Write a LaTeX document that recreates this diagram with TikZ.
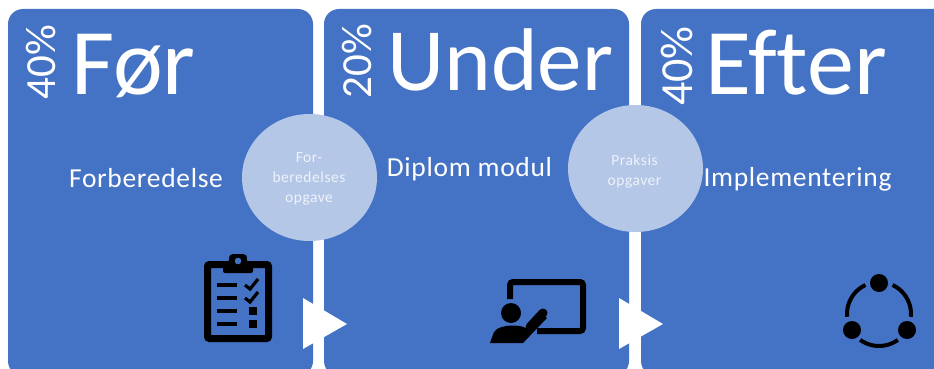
\documentclass[tikz,border=0pt]{standalone}
\usepackage{fontspec}
\usetikzlibrary{shapes.geometric}
\setmainfont{Carlito}
\definecolor{panelblue}{HTML}{4472C4}
\definecolor{bubble}{HTML}{B4C7E7}
\definecolor{bubbletext}{HTML}{EEF2FA}
\tikzset{
  panelbox/.style={fill=panelblue,rounded corners=15pt},
  bubblecirc/.style={ellipse,fill=bubble,inner sep=0pt,minimum width=135pt,minimum height=127pt},
  bigtitle/.style={text=white,inner sep=0pt,font=\fontsize{94}{94}\selectfont},
  undertitle/.style={text=white,inner sep=0pt,font=\fontsize{89}{89}\selectfont},
  pct/.style={text=white,inner sep=0pt,rotate=90,font=\fontsize{43}{43}\selectfont},
  pctbig/.style={text=white,inner sep=0pt,rotate=90,font=\fontsize{46}{46}\selectfont},
  sublabel/.style={text=white,inner sep=0pt,font=\fontsize{27.5}{27.5}\selectfont\addfontfeature{LetterSpace=2.5}},
  smalllabel/.style={text=bubbletext,inner sep=0pt,align=center,font=\fontsize{15.5}{20}\selectfont\addfontfeature{LetterSpace=3.5}},
  arrowtri/.style={fill=white},
  iconline/.style={draw=black,line width=4pt},
  ringarc/.style={draw=black,line width=4pt},
}
\begin{document}
\begin{tikzpicture}[x=1pt,y=-1pt]
\useasboundingbox (0,0) rectangle (934,369);
\fill[white] (0,0) rectangle (934,369);
\begin{scope}
\clip (0,0) rectangle (934,369);
% panels
\path[panelbox] (8,9) rectangle (313,376);
\path[panelbox] (324,9) rectangle (629,376);
\path[panelbox] (641,9) rectangle (960,376);
\end{scope}
% titles
\node[bigtitle,anchor=base west] (t1) at (71,95) {Før};
\node[undertitle,anchor=base west] (t2) at (387,90) {Under};
\node[bigtitle,anchor=base west] (t3) at (705,95) {Ef\kern0pt ter};
\node[pct] (p1) at (41,62) {40\%};
\node[pct] (p2) at (357,61) {20\%};
\node[pctbig] (p3) at (677,66) {40\%};
\node[sublabel] (s1) at (146,178) {Forberedelse};
\node[sublabel] (s2) at (469.5,169) {Diplom modul};
\node[sublabel] (s3) at (797.5,179) {Implementering};
% triangles
\fill[arrowtri] (303,298) -- (347,324) -- (303,349) -- cycle;
\fill[arrowtri] (619,298) -- (663,324) -- (619,349) -- cycle;
% circles
\node[bubblecirc] (c1) at (309.5,177.5) {};
\node[bubblecirc] (c2) at (635.5,168.5) {};
\node[smalllabel] (l1) at (309,178.5) {For-\\beredelses\\opgave};
\node[smalllabel] (l2) at (634.5,171) {Praksis\\opgaver};
% clipboard icon
\draw[black,line width=7pt,rounded corners=2pt] (207.5,264.5) rectangle (268.5,338.5);
\fill[black,rounded corners=2pt] (223,273) -- (223,262) -- (229,262) -- (229,258) [rounded corners=3pt] -- (230,254) -- (246,254) -- (247,258) [rounded corners=2pt] -- (247,262) -- (253,262) -- (253,273) -- cycle;
\fill[panelblue] (238,261) circle (3.3pt);
\foreach \yy in {285,298,311,324} \draw[iconline] (217,\yy) -- (237,\yy);
\draw[black,line width=3.2pt] (245,285) -- (250,289) -- (258,279);
\draw[black,line width=3.2pt] (245,298) -- (250,302) -- (258,292);
\fill[black] (249,307) rectangle (257,315);
\fill[black] (249,320) rectangle (257,328);
% presentation icon
\draw[black,line width=6pt,rounded corners=3pt] (510,299) -- (510,282) -- (583,282) -- (583,331) -- (537,331);
\fill[black] (511,313) circle (10pt);
\fill[black] (490,343) -- (494,332) .. controls (497,327) and (505,326) .. (511,325.5) .. controls (517,325.5) and (522,326) .. (526,328) -- (538,313) -- (547,318) -- (523,343) -- cycle;
\draw[black,line width=9pt,line cap=round] (530,327) -- (543,313);
% network icon
\fill[black] (879,283) circle (9pt);
\fill[black] (852,330) circle (9pt);
\fill[black] (907,330) circle (9pt);
\draw[ringarc] plot[smooth,samples=15,domain=115:185] ({879+32*cos(\x)},{314-32*sin(\x)});
\draw[ringarc] plot[smooth,samples=15,domain=-5:65] ({879+32*cos(\x)},{314-32*sin(\x)});
\draw[ringarc] plot[smooth,samples=15,domain=234:306] ({879+32*cos(\x)},{314-32*sin(\x)});
\end{tikzpicture}
\end{document}
